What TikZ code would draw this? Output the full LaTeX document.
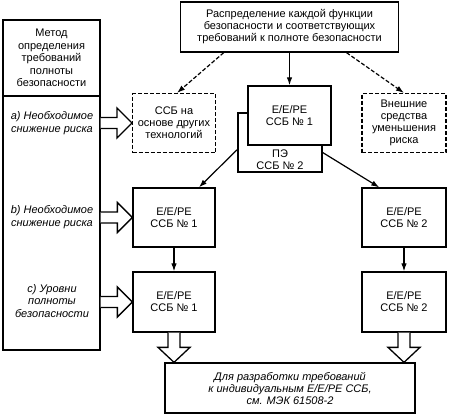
\documentclass[tikz,border=0pt]{standalone}
\usepackage{fontspec}
\setmainfont{Liberation Sans}
\usetikzlibrary{arrows.meta,positioning,calc}
% hollow block arrows
\newcommand{\fatright}[2]{\draw[fat] ($#1+(0,-5.5)$) -- ($#2+(-15,-5.5)$) -- ($#2+(-15,-15)$) -- #2 -- ($#2+(-15,15)$) -- ($#2+(-15,5.5)$) -- ($#1+(0,5.5)$);}
\newcommand{\fatdown}[2]{\draw[fat] ($#1+(-6,0)$) -- ($#2+(-6,-15)$) -- ($#2+(-16,-15)$) -- #2 -- ($#2+(16,-15)$) -- ($#2+(6,-15)$) -- ($#1+(6,0)$);}

\begin{document}
\begin{tikzpicture}[x=1pt,y=-1pt, every node/.style={font=\fontsize{11}{12}\selectfont},
  box/.style={draw,line width=1.3pt,align=center,fill=white,minimum width=83pt,minimum height=59pt,inner sep=2pt},
  dbox/.style={box,line width=1.1pt,dash pattern=on 4pt off 2pt},
  lbl/.style={align=center,font=\fontsize{11}{12.8}\selectfont\itshape},
  arr/.style={line width=1.2pt,-{Latex[length=8pt,width=5.5pt]}},
  darr/.style={arr,dash pattern=on 4pt off 2pt},
  fat/.style={line width=1.3pt,fill=white,line join=miter}]
\useasboundingbox (0,0) rectangle (449,416);
% left column
\node[box,minimum width=97pt,minimum height=76pt,font=\fontsize{11}{12.6}\selectfont] (meth) at (51.5,58) {Метод\\определения\\требований\\полноты\\безопасности};
\node[box,minimum width=97pt,minimum height=254pt] (lvl) at (51.5,223) {};
\node[lbl] (la) at (52,123) {a) Необходимое\\снижение риска};
\node[lbl] (lb) at (52,217) {b) Необходимое\\снижение риска};
\node[lbl] (lc) at (52,301) {c) Уровни\\полноты\\безопасности};
% top
\node[box,minimum width=218pt,minimum height=50pt] (dist) at (289.5,27) {Распределение каждой функции\\безопасности и соответствующих\\требований к полноте безопасности};
\node[dbox] (ssb) at (174,123) {ССБ на\\основе других\\технологий};
\node[dbox,minimum width=84pt] (ext) at (404,123) {Внешние\\средства\\уменьшения\\риска};
\node[box,minimum width=84pt] (pe) at (280,142.5) {};
\node[align=center,above=0pt of pe.south] (pet) {ПЭ\\ССБ № 2};
\node[box] (ee1) at (289.5,115.5) {E/E/PE\\ССБ № 1};
% realisation rows
\node[box,minimum width=82pt] (r2l) at (174,217.5) {E/E/PE\\ССБ № 1};
\node[box,minimum width=84pt] (r2r) at (404,217.5) {E/E/PE\\ССБ № 2};
\node[box,minimum width=82pt,minimum height=60pt] (r3l) at (174,302) {E/E/PE\\ССБ № 1};
\node[box,minimum width=84pt,minimum height=60pt] (r3r) at (404,302) {E/E/PE\\ССБ № 2};
\node[box,minimum width=250pt,minimum height=50pt,font=\fontsize{11}{12}\selectfont\itshape] (out) at (290,388) {Для разработки требований\\к индивидуальным E/E/PE ССБ,\\см. МЭК 61508-2};
% connectors
\draw[darr] ($(dist.south west)!0.2!(dist.south east)$) -- ($(ssb.north)+(3,0)$);
\draw[darr] ($(dist.south west)!0.76!(dist.south east)$) -- (ext.north);
\draw[arr] (dist.south) -- (ee1.north);
\draw[arr] ($(pe.west)+(0,7)$) -- ($(r2l.north west)!0.8!(r2l.north east)$);
\draw[arr] ($(pe.east)+(0,10)$) -- ($(r2r.north west)!0.21!(r2r.north east)$);
\draw[arr] (r2l) -- (r3l);
\draw[arr] (r2r) -- (r3r);
\fatright{(lvl.east |- ssb.west)}{(ssb.west)}
\fatright{(lvl.east |- r2l.west)}{(r2l.west)}
\fatright{(lvl.east |- r3l.west)}{(r3l.west)}
\fatdown{(r3l.south)}{(r3l.south |- out.north)}
\fatdown{(r3r.south)}{(r3r.south |- out.north)}
\end{tikzpicture}
\end{document}
